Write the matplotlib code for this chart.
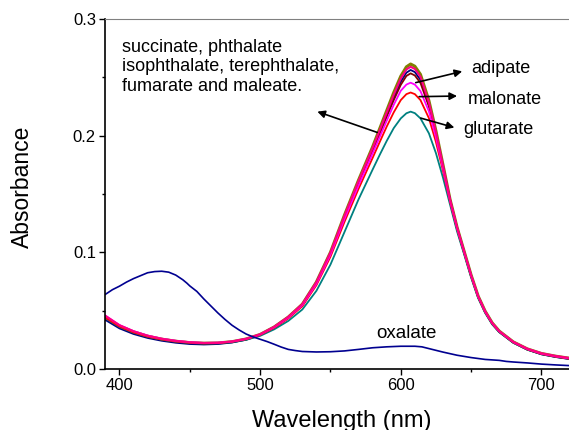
import matplotlib
matplotlib.use("Agg")
import matplotlib.pyplot as plt
from matplotlib.ticker import MultipleLocator, FormatStrFormatter

plt.rcParams["font.family"] = ["Liberation Sans", "DejaVu Sans"]

# wavelength grid (nm) shared by the peaked spectra
wl = [390, 400, 410, 420, 430, 440, 450, 460, 470, 480, 490, 500, 510, 520, 530,
      540, 550, 560, 570, 580, 585, 590, 595, 600, 604, 607, 610, 614, 620, 625,
      630, 635, 640, 645, 650, 655, 660, 665, 670, 680, 690, 700, 710, 720]

abs_succinate = [0.0445, 0.0368, 0.0318, 0.0281, 0.0256, 0.0238, 0.0226, 0.0221, 0.0223, 0.0234,
                 0.0257, 0.0296, 0.0360, 0.0445, 0.0555, 0.0745, 0.1000, 0.1320, 0.1620, 0.1905,
                 0.2060, 0.2215, 0.2370, 0.2510, 0.2590, 0.2614, 0.2595, 0.2525, 0.2300, 0.2040,
                 0.1750, 0.1455, 0.1215, 0.1010, 0.0805, 0.0625, 0.0495, 0.0395, 0.0325, 0.0232,
                 0.0172, 0.0133, 0.0110, 0.0092]
abs_phthalate = [0.0455, 0.0375, 0.0323, 0.0285, 0.0259, 0.0241, 0.0229, 0.0223, 0.0225, 0.0236,
                 0.0259, 0.0298, 0.0362, 0.0447, 0.0557, 0.0745, 0.1000, 0.1315, 0.1612, 0.1895,
                 0.2045, 0.2198, 0.2350, 0.2490, 0.2568, 0.2590, 0.2572, 0.2505, 0.2285, 0.2030,
                 0.1745, 0.1455, 0.1215, 0.1010, 0.0805, 0.0625, 0.0495, 0.0395, 0.0325, 0.0233,
                 0.0174, 0.0135, 0.0112, 0.0094]
abs_isophthalate = [0.0420, 0.0348, 0.0300, 0.0266, 0.0242, 0.0225, 0.0214, 0.0210, 0.0214, 0.0227,
                    0.0251, 0.0292, 0.0357, 0.0442, 0.0552, 0.0740, 0.0993, 0.1305, 0.1600, 0.1880,
                    0.2028, 0.2178, 0.2326, 0.2462, 0.2540, 0.2563, 0.2545, 0.2478, 0.2265, 0.2020,
                    0.1735, 0.1448, 0.1208, 0.1003, 0.0798, 0.0618, 0.0488, 0.0388, 0.0318, 0.0226,
                    0.0166, 0.0126, 0.0103, 0.0085]
abs_terephthalate = [0.0438, 0.0362, 0.0312, 0.0276, 0.0251, 0.0234, 0.0223, 0.0218, 0.0221, 0.0233,
                     0.0256, 0.0295, 0.0359, 0.0443, 0.0552, 0.0738, 0.0990, 0.1300, 0.1592, 0.1870,
                     0.2015, 0.2162, 0.2305, 0.2436, 0.2512, 0.2534, 0.2516, 0.2452, 0.2250, 0.2008,
                     0.1730, 0.1448, 0.1210, 0.1005, 0.0800, 0.0620, 0.0490, 0.0391, 0.0321, 0.0229,
                     0.0169, 0.0130, 0.0107, 0.0089]
abs_adipate = [0.0458, 0.0377, 0.0325, 0.0287, 0.0260, 0.0242, 0.0230, 0.0224, 0.0226, 0.0236,
               0.0258, 0.0296, 0.0358, 0.0440, 0.0548, 0.0730, 0.0980, 0.1288, 0.1575, 0.1848,
               0.1988, 0.2128, 0.2265, 0.2385, 0.2438, 0.2454, 0.2438, 0.2382, 0.2208, 0.1985,
               0.1720, 0.1445, 0.1210, 0.1005, 0.0802, 0.0622, 0.0492, 0.0393, 0.0323, 0.0231,
               0.0171, 0.0132, 0.0109, 0.0091]
abs_malonate = [0.0440, 0.0364, 0.0314, 0.0278, 0.0253, 0.0236, 0.0225, 0.0220, 0.0222, 0.0233,
                0.0255, 0.0292, 0.0353, 0.0433, 0.0538, 0.0718, 0.0962, 0.1262, 0.1545, 0.1810,
                0.1945, 0.2078, 0.2200, 0.2305, 0.2356, 0.2370, 0.2356, 0.2305, 0.2150, 0.1945,
                0.1700, 0.1435, 0.1203, 0.1000, 0.0798, 0.0618, 0.0488, 0.0389, 0.0320, 0.0228,
                0.0168, 0.0129, 0.0106, 0.0088]
abs_glutarate = [0.0435, 0.0360, 0.0311, 0.0276, 0.0251, 0.0234, 0.0223, 0.0218, 0.0220, 0.0230,
                 0.0250, 0.0284, 0.0340, 0.0412, 0.0510, 0.0670, 0.0895, 0.1175, 0.1455, 0.1710,
                 0.1835, 0.1955, 0.2065, 0.2148, 0.2192, 0.2206, 0.2193, 0.2148, 0.2020, 0.1850,
                 0.1640, 0.1410, 0.1180, 0.0985, 0.0785, 0.0608, 0.0480, 0.0382, 0.0315, 0.0224,
                 0.0165, 0.0127, 0.0104, 0.0087]

# oxalate has its own grid
wl_oxalate = [390, 395, 400, 405, 410, 415, 420, 425, 430, 435, 440, 445, 448, 450, 455,
              460, 465, 470, 475, 480, 485, 490, 495, 500, 505, 510, 515, 520, 525, 530,
              540, 550, 560, 570, 580, 590, 600, 610, 615, 620, 630, 640, 650, 660, 670,
              675, 680, 690, 700, 710, 720]
abs_oxalate = [0.0640, 0.0680, 0.0710, 0.0745, 0.0775, 0.0800, 0.0825, 0.0835, 0.0838, 0.0830,
               0.0805, 0.0765, 0.0735, 0.0712, 0.0665, 0.0600, 0.0540, 0.0480, 0.0425, 0.0375,
               0.0335, 0.0300, 0.0275, 0.0255, 0.0235, 0.0212, 0.0188, 0.0168, 0.0158, 0.0150,
               0.0146, 0.0148, 0.0155, 0.0168, 0.0182, 0.0190, 0.0195, 0.0195, 0.0190, 0.0175,
               0.0145, 0.0118, 0.0098, 0.0082, 0.0074, 0.0065, 0.0060, 0.0052, 0.0042, 0.0035,
               0.0029]

fig = plt.figure(figsize=(5.69, 4.30), dpi=100)
ax = fig.add_axes([105 / 569, 61 / 430, 464 / 569, 350 / 430])

ax.plot(wl, abs_succinate, color="#808000", lw=2.2)
ax.plot(wl, abs_isophthalate, color="#000080", lw=1.3)
ax.plot(wl, abs_terephthalate, color="#800000", lw=1.3)
ax.plot(wl, abs_glutarate, color="#008080", lw=1.3)
ax.plot(wl, abs_malonate, color="#FF0000", lw=1.3)
ax.plot(wl, abs_adipate, color="#FF00FF", lw=1.3)
ax.plot(wl, abs_phthalate, color="#FF0080", lw=1.5)
ax.plot(wl_oxalate, abs_oxalate, color="#000090", lw=1.2)

arrow = dict(arrowstyle="-|>", color="black", lw=1.2, mutation_scale=11)
ax.annotate("", xy=(538.8, 0.2214), xytext=(585.1, 0.2020), arrowprops=arrow)
ax.annotate("", xy=(645.6, 0.2557), xytext=(608.7, 0.2449), arrowprops=arrow)
ax.annotate("", xy=(642.0, 0.2340), xytext=(611.1, 0.2334), arrowprops=arrow)
ax.annotate("", xy=(640.0, 0.2063), xytext=(612.3, 0.2157), arrowprops=arrow)

ax.text(401.5, 0.2590, "succinate, phthalate\nisophthalate, terephthalate,\nfumarate and maleate.",
        fontsize=13, va="center", ha="left", linespacing=1.2)
ax.text(650.0, 0.2577, "adipate", fontsize=13, va="center", ha="left")
ax.text(647.5, 0.2311, "malonate", fontsize=13, va="center", ha="left")
ax.text(644.6, 0.2054, "glutarate", fontsize=13, va="center", ha="left")
ax.text(582.7, 0.0306, "oxalate", fontsize=13.5, va="center", ha="left")

ax.set_xlim(389.7, 719.6)
ax.set_ylim(0, 0.3)
ax.xaxis.set_major_locator(MultipleLocator(100))
ax.xaxis.set_minor_locator(MultipleLocator(50))
ax.yaxis.set_major_locator(MultipleLocator(0.1))
ax.yaxis.set_minor_locator(MultipleLocator(0.05))
ax.yaxis.set_major_formatter(FormatStrFormatter("%.1f"))
ax.tick_params(which="major", direction="out", length=4.5, width=1, labelsize=12, pad=2)
ax.tick_params(which="minor", direction="out", length=2.5, width=1)

ax.spines["right"].set_visible(False)
ax.spines["top"].set_color("#808080")
ax.spines["top"].set_linewidth(0.8)
ax.spines["left"].set_linewidth(1.2)
ax.spines["bottom"].set_linewidth(1.2)

fig.text(22 / 569, 1 - 187 / 430, "Absorbance", rotation=90, fontsize=16.5,
         ha="center", va="center")
fig.text(342 / 569, 1 - 421 / 430, "Wavelength (nm)", fontsize=17,
         ha="center", va="center")

fig.savefig("out.png", dpi=100)
